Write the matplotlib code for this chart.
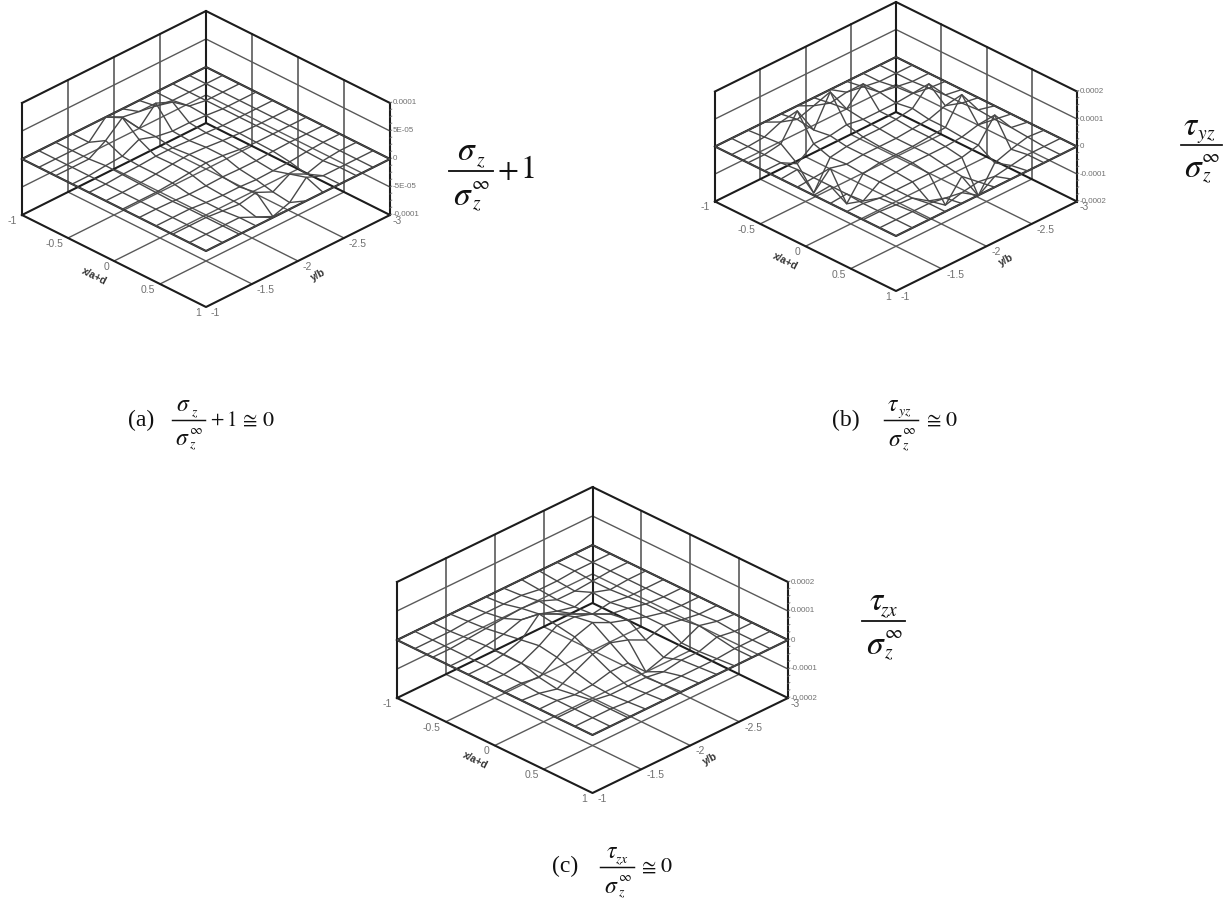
import numpy as np
import matplotlib
matplotlib.use("Agg")
import matplotlib.pyplot as plt
from matplotlib.lines import Line2D
from mpl_toolkits.mplot3d import proj3d

plt.rcParams['font.family'] = ['Liberation Sans', 'DejaVu Sans']
plt.rcParams['mathtext.fontset'] = 'stix'

# --- Data ---
x_nodes = [-1, -0.818, -0.636, -0.455, -0.273, -0.091, 0.091, 0.273, 0.455, 0.636, 0.818, 1]
y_nodes = [-1, -1.182, -1.364, -1.545, -1.727, -1.909, -2.091, -2.273, -2.455, -2.636, -2.818, -3]

x_ticks = [-1, -0.5, 0, 0.5, 1]
y_ticks = [-1, -1.5, -2, -2.5, -3]

# surface values, in units of 1e-5 (rows follow x_nodes, columns y_nodes)
z_sigma = [
    [0, 0, 0, 0, 0, 0, 0, 0, 0, 0, 0, 0],
    [0, 0, 0, 0, 3, 1.5, 1, 0.5, 0, 0, 0, 0],
    [0, 0, 0, 1.8, 4.4, 1, 4, 2.7, 0.5, 0, 0, 0],
    [0, 0, 0.3, 0.5, 2, 1, 0.5, 0.5, 0.3, 0, 0, 0],
    [0, 0, 0.2, 0.3, 0.5, 0.5, 0.3, 0.2, 0, 0, 0, 0],
    [0, 0, 0.1, 0.3, 0.6, 0.8, 0.6, 0.3, 0.1, 0, 0, 0],
    [0, 0, 0, 0.2, 0.5, 0.8, 0.6, 0.2, 0, 0, 0, 0],
    [0, 0, -0.1, -0.3, -0.3, -0.2, -0.3, -0.3, -0.1, 0, 0, 0],
    [0, 0, 0, -0.3, -0.5, -0.5, -0.7, -0.6, -0.5, -0.2, 0, 0],
    [0, 0, 0, -0.3, -0.6, 0, -1.4, 0.3, -1.2, -0.3, 0, 0],
    [0, 0, 0, 0, -1.4, -2.8, -1.8, 1.2, 0, 0, 0, 0],
    [0, 0, 0, 0, 0, 0, 0, 0, 0, 0, 0, 0],
]
z_tau_yz = [
    [0, 0, 0, 0, 0, 0, 0, 0, 0, 0, 0, 0],
    [0, 0, 0.5, 3, 1, 3, 1, 2, 1, 0, 0, 0],
    [0, 0, 1, 10, 0.1, 11, 1.8, 8, 2, 1, 0, 0],
    [0, 0, -3.3, 1, 1, 2, 1, 1, 1, 1.5, 0.5, 0],
    [0, 0.5, -11, -1, 0, 0.5, 0.5, 1, 2, 8, 1, 0],
    [0, 0.5, 1, -0.5, 0, 0, 0, 0.5, 1, 3, 1, 0],
    [0, 0.5, -9, -1, 0, 0, 0, 0.5, 1, 10, 1.5, 0],
    [0, 0.5, -5, -1, -0.5, 0, 0, 0, 0.5, 2, 1, 0],
    [0, 0, -1, -1, -1, -1, -1, -1, 0.5, 8.5, 1, 0],
    [0, 0, -0.5, -1, -5, -9.5, -2, -12, -3, -1, 0.5, 0],
    [0, 0, 0, 0, -1, -2, -1, -2, -1, 0, 0, 0],
    [0, 0, 0, 0, 0, 0, 0, 0, 0, 0, 0, 0],
]
z_tau_zx = [
    [0, 0, 0, 0, 0, 0, 0, 0, 0, 0, 0, 0],
    [0, 0, 0, 0.5, 0.5, 0.5, 0.5, -0.5, -0.5, 0, 0, 0],
    [0, 0, 0.5, 1, 1.5, 2, 1.5, -1, -1, -0.5, 0, 0],
    [0, 0, 1, 2, 4, 3, 1, -0.5, 1.5, -0.5, 0, 0],
    [0, 0, 1, 3, 9, 6, 3, 0, 1, 0, 0, 0],
    [0, 0, 1, 4, 8, 8, 6, 3, 2, 0.5, 0, 0],
    [0, 0, -1, 3, 7, 9, 6, 4, 2, 0.5, 0, 0],
    [0, -0.5, -2, 1, 4, 5, 3, 0, 2, 1, 0, 0],
    [0, 0, -1, -0.5, 1, 1, -5, -3, -1, 2, 0.5, 0],
    [0, 0, 0, -1, -1, -1, -2, -1, -1, 1, 0, 0],
    [0, 0, 0, -0.5, -0.5, -0.5, -0.5, -0.5, -0.5, 0, 0, 0],
    [0, 0, 0, 0, 0, 0, 0, 0, 0, 0, 0, 0],
]

z_ticks_a = [-1e-4, -5e-5, 0, 5e-5, 1e-4]
z_labels_a = ["-0.0001", "-5E-05", "0", "5E-05", "0.0001"]
z_ticks_b = [-2e-4, -1e-4, 0, 1e-4, 2e-4]
z_labels_b = ["-0.0002", "-0.0001", "0", "0.0001", "0.0002"]

FRAME = '#1c1c1c'
GRID = '#5a5a5a'
MESH = '#484848'
TICK = '#707070'
W, H = 1231, 899

fig = plt.figure(figsize=(W / 100, H / 100), dpi=100)


def draw_panel(z_values, z_ticks, z_labels, left, right, floor_front, floor_back, z_px):
    zmax = z_ticks[-1]
    span = right - left
    elev = np.degrees(np.arcsin((floor_front - floor_back) / span))
    size = 560
    cx, cy = (left + right) / 2, (floor_front + floor_back) / 2 - z_px / 2
    ax = fig.add_axes([(cx - size / 2) / W, 1 - (cy + size / 2) / H, size / W, size / H],
                      projection='3d', proj_type='ortho')
    ax.view_init(elev=elev, azim=-45)
    ax.set_xlim(-1, 1)
    ax.set_ylim(-1, -3)
    ax.set_zlim(-zmax, zmax)
    ax.set_axis_off()
    aspect_z = z_px * np.sqrt(2) / span / np.cos(np.radians(elev))
    ax.set_box_aspect((1, 1, aspect_z), zoom=1)

    def to_px(xv, yv, zv):
        px, py, _ = proj3d.proj_transform(xv, yv, zv, ax.get_proj())
        return ax.transData.transform((px, py))

    # fit the box onto the wanted pixel span, then shift it in place
    fig.canvas.draw()
    w0 = to_px(1, -3, -zmax)[0] - to_px(-1, -1, -zmax)[0]
    ax.set_box_aspect((1, 1, aspect_z), zoom=span / w0)
    fig.canvas.draw()
    front = to_px(1, -1, -zmax)
    dx = (left + right) / 2 - front[0]
    dy = (H - floor_front) - front[1]
    pos = ax.get_position()
    ax.set_position([pos.x0 + dx / W, pos.y0 + dy / H, pos.width, pos.height])
    fig.canvas.draw()

    # walls and floor grid
    for xv in x_ticks[1:-1]:
        ax.plot([xv, xv], [-1, -3], [-zmax, -zmax], color=GRID, lw=1.0)
        ax.plot([xv, xv], [-3, -3], [-zmax, zmax], color=GRID, lw=1.2)
    for yv in y_ticks[1:-1]:
        ax.plot([-1, 1], [yv, yv], [-zmax, -zmax], color=GRID, lw=1.0)
        ax.plot([-1, -1], [yv, yv], [-zmax, zmax], color=GRID, lw=1.2)
    for zv in z_ticks[1:-1]:
        ax.plot([-1, -1, 1], [-1, -3, -3], [zv, zv, zv], color=GRID, lw=1.0)

    # frame
    ax.plot([-1, 1, 1, -1, -1], [-1, -1, -3, -3, -1], [-zmax] * 5, color=FRAME, lw=1.5)
    ax.plot([-1, -1, 1], [-1, -3, -3], [zmax] * 3, color=FRAME, lw=1.5)
    for xv, yv in [(-1, -1), (-1, -3), (1, -3)]:
        ax.plot([xv, xv], [yv, yv], [-zmax, zmax], color=FRAME, lw=1.5)
    for zv in np.linspace(-zmax, zmax, 17):
        ax.plot([1, 1], [-3, -3.02], [zv, zv], color=TICK, lw=0.6)

    # surface
    X, Y = np.meshgrid(x_nodes, y_nodes, indexing='ij')
    Z = np.array(z_values) * 1e-5
    ax.plot_wireframe(X, Y, Z, rstride=1, cstride=1, color=MESH, lw=1.0)
    ax.plot([-1, 1, 1, -1, -1], [-1, -1, -3, -3, -1], [0] * 5, color=FRAME, lw=1.5)

    # tick labels
    def label(s, xv, yv, zv, dx, dy, ha, **kw):
        px, py, _ = proj3d.proj_transform(xv, yv, zv, ax.get_proj())
        ax.annotate(s, (px, py), xytext=(dx, dy), textcoords='offset pixels', ha=ha, va='center',
                    annotation_clip=False, **kw)

    for xv in x_ticks:
        label(f"{xv:g}", xv, -1, -zmax, -5, -6, 'right', fontsize=7.5, color=TICK)
    for yv in y_ticks[:-1]:
        label(f"{yv:g}", 1, yv, -zmax, 5, -6, 'left', fontsize=7.5, color=TICK)
    label("-3", 1, -3, -zmax, 3, -6, 'left', fontsize=7.5, color=TICK)
    for zv, s in zip(z_ticks, z_labels):
        label(s, 1, -3, zv, 3, 0, 'left', fontsize=5.8, color=TICK)

    label("x/a+d", 0, -1, -zmax, -20, -15, 'center', fontsize=7.5, fontweight='bold', color='#333333', rotation=-27)
    label("y/b", 1, -2, -zmax, 20, -14, 'center', fontsize=7.5, fontweight='bold', color='#333333', rotation=28)
    return ax


draw_panel(z_sigma, z_ticks_a, z_labels_a, 22, 390, 307, 123, 112)
draw_panel(z_tau_yz, z_ticks_b, z_labels_b, 715, 1077, 291, 112, 110)
draw_panel(z_tau_zx, z_ticks_b, z_labels_b, 397, 788, 793, 603, 116)


# --- Formula text ---
def put(px, py, s, size, **kw):
    fig.text(px / W, 1 - py / H, s, fontsize=size, ha='center', va='center', color='#111111', **kw)


def fraction(left, y, width, top, sub, top_dx, sub_dx, size):
    s = width / 43
    fig.add_artist(Line2D([left / W, (left + width) / W], [1 - y / H, 1 - y / H], color='#111111', lw=1.1 * s + 0.2))
    put(left + top_dx * s, y - 19 * s, f'${top}$', size)
    put(left + sub_dx * s, y - 9 * s, f'${sub}$', size * 0.58)
    put(left + 14 * s, y + 25 * s, r'$\sigma$', size)
    put(left + 31 * s, y + 13 * s, r'$\infty$', size * 0.58)
    put(left + 27 * s, y + 33 * s, r'$z$', size * 0.58)


# side formulas
fraction(449, 171, 44, r'\sigma', 'z', 17, 31, 24)
put(508, 171, r'$+$', 22)
put(527, 170, r'$1$', 23)
fraction(1181, 145, 41, r'\tau', 'yz', 11, 26, 24)
fraction(862, 621, 43, r'\tau', 'zx', 15, 27, 24)

# captions
serif = ['Liberation Serif', 'DejaVu Serif']
put(141, 420, '(a)', 17, family=serif)
fraction(172, 420, 33, r'\sigma', 'z', 15, 30, 17)
put(217, 420, r'$+$', 14)
put(231, 420, r'$1$', 15)
put(248, 420, r'$\cong$', 15)
put(268, 420, r'$0$', 16)

put(846, 420, '(b)', 17, family=serif)
fraction(884, 420, 34, r'\tau', 'yz', 11, 26, 17)
put(932, 420, r'$\cong$', 15)
put(951, 420, r'$0$', 16)

put(565, 866, '(c)', 17, family=serif)
fraction(600, 867, 34, r'\tau', 'zx', 15, 27, 17)
put(647, 867, r'$\cong$', 15)
put(666, 866, r'$0$', 16)

fig.savefig("out.png", dpi=100)
